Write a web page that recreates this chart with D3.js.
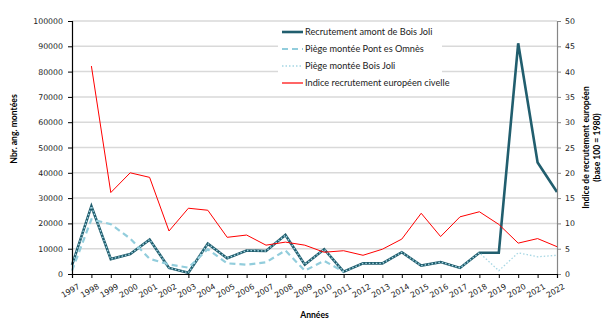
<!DOCTYPE html>
<html>
<head>
<meta charset="utf-8">
<script src="https://cdn.jsdelivr.net/npm/d3@7"></script>
<style>
  html, body { margin: 0; padding: 0; background: #fff; }
  svg { display: block; }
</style>
</head>
<body>
<svg id="chart" width="612" height="326"></svg>
<script>
// Années
const years = d3.range(1997, 2023);

// Recrutement amont de Bois Joli (nombre d'anguilles)
const recrutementBoisJoli = [3500, 26800, 5900, 7900, 13600, 2400, 500, 12000, 6200, 9300,
  9100, 15400, 3700, 9800, 900, 4200, 4200, 8600, 3300, 4700, 2400, 8400, 8400, 91200, 44100, 32400];

// Piège montée Pont es Omnès (1997-2011)
const piegePontEsOmnes = [1300, 21600, 19700, 14000, 6000, 3800, 2500, 9800, 4200, 3700,
  4600, 9300, 1300, 5200, 900];

// Piège montée Bois Joli
const piegeBoisJoli = [3500, 26800, 5900, 7900, 13600, 2400, 500, 12000, 6200, 9300,
  9100, 15400, 3700, 9800, 900, 4200, 4200, 8600, 3300, 4700, 2400, 8400, 1300, 8400, 6800, 7400];

// Indice recrutement européen civelle (base 100 = 1980), 1998-2022
const indiceEuropeen = [null, 41.1, 16.1, 20.0, 19.1, 8.5, 13.0, 12.6, 7.25, 7.7,
  5.7, 6.3, 5.7, 4.3, 4.6, 3.7, 4.9, 6.9, 12.0, 7.4, 11.3, 12.3, 9.8, 6.1, 7.0, 5.4];

const leftTicks = d3.range(0, 100001, 10000);
const rightTicks = d3.range(0, 51, 5);

const seriesNames = [
  "Recrutement amont de Bois Joli",
  "Piège montée Pont es Omnès",
  "Piège montée Bois Joli",
  "Indice recrutement européen civelle"
];

const svg = d3.select("#chart");
const plot = { left: 72, right: 557, top: 21, bottom: 274 };

const x = d3.scaleLinear().domain([1997, 2022]).range([plot.left, plot.right]);
const y = d3.scaleLinear().domain([0, 100000]).range([plot.bottom, plot.top]);
const y2 = d3.scaleLinear().domain([0, 50]).range([plot.bottom, plot.top]);

const tickFont = "DejaVu Sans, Verdana, sans-serif";
const textFont = "Lato, Carlito, Calibri, sans-serif";

// Horizontal gridlines
svg.append("g")
  .selectAll("line")
  .data(leftTicks.filter(d => d > 0))
  .join("line")
  .attr("x1", plot.left).attr("x2", plot.right)
  .attr("y1", d => y(d)).attr("y2", d => y(d))
  .attr("stroke", "#d9d9d9").attr("stroke-width", 1.5);

// Series styles
const styles = [
  { color: "#215e6e", width: 2.6, dash: null },
  { color: "#92cddc", width: 2.2, dash: "6,4" },
  { color: "#a5d6e3", width: 1.3, dash: "1.5,2" },
  { color: "#ff0000", width: 1, dash: null }
];

const lineLeft = d3.line()
  .defined(d => d.v != null)
  .x(d => x(d.year)).y(d => y(d.v));
const lineRight = d3.line()
  .defined(d => d.v != null)
  .x(d => x(d.year)).y(d => y2(d.v));

const toPoints = arr => arr.map((v, i) => ({ year: years[i], v }));

const series = [
  { pts: toPoints(recrutementBoisJoli), gen: lineLeft, s: styles[0] },
  { pts: toPoints(piegePontEsOmnes), gen: lineLeft, s: styles[1] },
  { pts: toPoints(piegeBoisJoli), gen: lineLeft, s: styles[2] },
  { pts: toPoints(indiceEuropeen), gen: lineRight, s: styles[3] }
];

svg.append("g")
  .selectAll("path")
  .data(series)
  .join("path")
  .attr("d", d => d.gen(d.pts))
  .attr("fill", "none")
  .attr("stroke", d => d.s.color)
  .attr("stroke-width", d => d.s.width)
  .attr("stroke-dasharray", d => d.s.dash)
  .attr("stroke-linejoin", "miter");

// Left axis
const gL = svg.append("g")
  .attr("transform", `translate(${plot.left},0)`)
  .call(d3.axisLeft(y).tickValues(leftTicks).tickFormat(d3.format("d")).tickSize(4).tickPadding(5));
gL.select(".domain").attr("stroke", "#000").attr("stroke-width", 1.2);
gL.selectAll(".tick line").attr("stroke", "#000");
gL.selectAll("text").attr("font-family", tickFont).attr("font-size", 7.8).attr("fill", "#222");

// Right axis
const gR = svg.append("g")
  .attr("transform", `translate(${plot.right},0)`)
  .call(d3.axisRight(y2).tickValues(rightTicks).tickSize(4).tickPadding(4));
gR.select(".domain").attr("stroke", "#868686").attr("stroke-width", 1.2);
gR.selectAll(".tick line").attr("stroke", "#868686");
gR.selectAll("text").attr("font-family", tickFont).attr("font-size", 7.8).attr("fill", "#222");

// Bottom axis
const gB = svg.append("g")
  .attr("transform", `translate(0,${plot.bottom})`)
  .call(d3.axisBottom(x).tickValues(years).tickFormat(d3.format("d")).tickSize(4).tickPadding(3));
gB.select(".domain").attr("stroke", "#000").attr("stroke-width", 1.2);
gB.selectAll(".tick line").attr("stroke", "#000");
gB.selectAll("text")
  .attr("font-family", tickFont).attr("font-size", 7.8).attr("fill", "#222")
  .attr("text-anchor", "end")
  .attr("dy", "0.6em")
  .attr("transform", "translate(2,4) rotate(-30)");

// Axis titles
svg.append("text")
  .attr("transform", `translate(17,129) rotate(-90)`)
  .attr("text-anchor", "middle")
  .attr("font-family", textFont).attr("font-weight", "bold").attr("font-size", 8.6)
  .text("Nbr. ang. montées");

const rt = svg.append("text")
  .attr("transform", `translate(589,147.5) rotate(-90)`)
  .attr("text-anchor", "middle")
  .attr("font-family", textFont).attr("font-weight", "bold").attr("font-size", 8.6);
rt.append("tspan").attr("x", 0).attr("dy", 0).text("Indice de recrutement européen");
rt.append("tspan").attr("x", 0).attr("dy", 10.5).text("(base 100 = 1980)");

svg.append("text")
  .attr("x", (plot.left + plot.right) / 2).attr("y", 318)
  .attr("text-anchor", "middle")
  .attr("font-family", textFont).attr("font-weight", "bold").attr("font-size", 8.6)
  .text("Années");

// Legend
const legend = svg.append("g").attr("transform", "translate(282,32)");
legend.append("rect")
  .attr("x", -4).attr("y", -8).attr("width", 164).attr("height", 60)
  .attr("fill", "#fff");
const item = legend.selectAll("g.item")
  .data(seriesNames)
  .join("g")
  .attr("class", "item")
  .attr("transform", (d, i) => `translate(0,${i * 17})`);
item.append("line")
  .attr("x1", 0).attr("x2", 21).attr("y1", 0).attr("y2", 0)
  .attr("stroke", (d, i) => styles[i].color)
  .attr("stroke-width", (d, i) => i === 3 ? 2 : styles[i].width)
  .attr("stroke-dasharray", (d, i) => styles[i].dash)
  .attr("stroke-opacity", (d, i) => i === 3 ? 0.6 : 1);
item.append("text")
  .attr("x", 23).attr("y", 0).attr("dy", "0.35em")
  .attr("font-family", textFont).attr("font-size", 9.2).attr("fill", "#222")
  .text(d => d);
</script>
</body>
</html>
